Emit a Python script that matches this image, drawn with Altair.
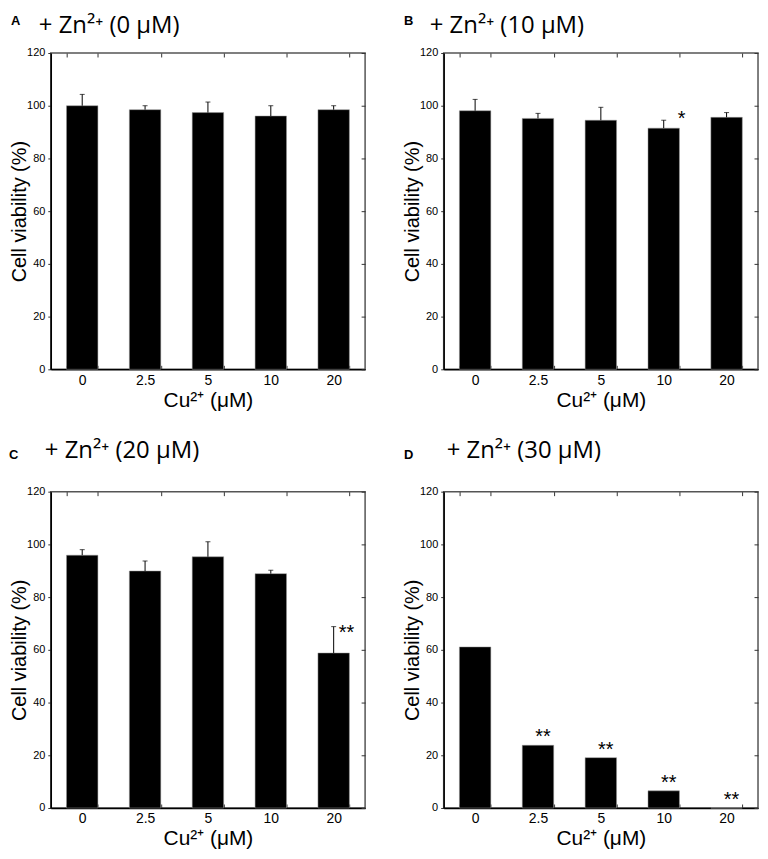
import altair as alt
import pandas as pd

# ---- data ----
cu_labels = ["0", "2.5", "5", "10", "20"]
letters = ["A", "B", "C", "D"]
titles = ["+ Zn²⁺ (0 μM)", "+ Zn²⁺ (10 μM)", "+ Zn²⁺ (20 μM)", "+ Zn²⁺ (30 μM)"]

mean_A = [100.0, 98.5, 97.4, 96.1, 98.5]
sd_A = [4.3, 1.5, 4.0, 3.9, 1.5]
stars_A = ["", "", "", "", ""]

mean_B = [98.1, 95.2, 94.5, 91.5, 95.6]
sd_B = [4.3, 1.9, 4.9, 3.0, 1.8]
stars_B = ["", "", "", "*", ""]

mean_C = [95.9, 89.9, 95.3, 88.9, 58.8]
sd_C = [2.1, 3.8, 5.7, 1.3, 10.0]
stars_C = ["", "", "", "", "**"]

mean_D = [61.1, 23.8, 19.1, 6.5, 0.0]
sd_D = [0.0, 0.0, 0.0, 0.0, 0.0]
stars_D = ["", "**", "**", "**", "**"]

y_ticks = [0, 20, 40, 60, 80, 100, 120]

LABEL_FONT = "Liberation Sans"
TITLE_FONT = "Open Sans"
W = 316
H = 318


def panel(letter, title, means, sds, stars, title_dx, title_y, letter_dx, letter_y,
          star_dx, star_dy):
    df = pd.DataFrame({"cu": cu_labels, "mean": means, "sd": sds, "star": stars})
    df["top"] = df["mean"] + df["sd"]
    base = alt.Chart(df)

    xscale = alt.Scale(paddingInner=0.5, paddingOuter=0.25)
    yscale = alt.Scale(domain=[0, 120], nice=False, zero=True)

    x_plain = alt.X("cu:N", sort=cu_labels, axis=None)

    x_bottom = alt.X(
        "cu:N", sort=cu_labels, scale=xscale,
        axis=alt.Axis(
            title="Cu²⁺ (μM)", labelAngle=0, labelFont=LABEL_FONT, labelFontSize=14,
            labelColor="black", labelPadding=8, titleFont=LABEL_FONT, titleFontSize=21,
            titleFontWeight="normal", titleColor="black", titlePadding=2,
            tickBand="extent", tickSize={"expr": "-4"}, tickColor="#333",
            domainColor="black", domainWidth=1.5, grid=False,
        ),
    )
    y_left = alt.Y(
        "mean:Q", scale=yscale,
        axis=alt.Axis(
            title="Cell viability (%)", values=y_ticks, labelFont=LABEL_FONT,
            labelFontSize=11, labelColor="black", labelPadding=3,
            titleFont=LABEL_FONT, titleFontSize=20, titleFontWeight="normal",
            titleColor="black", titlePadding=-3, tickSize=3, tickColor="#333",
            domainColor="black", domainWidth=1.5, grid=False,
        ),
    )

    bars = base.mark_bar(color="black", stroke="#999", strokeWidth=0.5).encode(
        x=x_bottom, y=y_left
    )

    err_base = base.transform_filter("datum.sd > 0")
    err = err_base.mark_rule(color="black", strokeWidth=1).encode(
        x=x_plain, y=alt.Y("mean:Q", axis=None), y2="top:Q"
    )
    caps = err_base.mark_tick(color="black", size=5, thickness=1,
                              orient="horizontal").encode(
        x=x_plain, y=alt.Y("top:Q", axis=None)
    )

    star_txt = base.transform_filter("datum.star != ''").mark_text(
        font=LABEL_FONT, fontSize=20, color="black", align="center",
        baseline="alphabetic", dx=star_dx, dy=star_dy
    ).encode(x=x_plain, y=alt.Y("top:Q", axis=None), text="star:N")

    mirror = base.mark_point(opacity=0).encode(
        x=alt.X("cu:N", sort=cu_labels,
                axis=alt.Axis(orient="top", labels=False, title=None,
                              tickBand="extent", domain=False,
                              tickSize={"expr": "-4"}, tickColor="#333",
                              grid=False)),
        y=alt.Y("mean:Q",
                axis=alt.Axis(orient="right", labels=False, title=None,
                              values=y_ticks, domain=False,
                              tickSize={"expr": "-4"}, tickColor="#333",
                              grid=False)),
    )

    head = pd.DataFrame({"letter": [letter], "title": [title]})
    letter_txt = alt.Chart(head).mark_text(
        font="Liberation Sans", fontSize=13, fontWeight="bold", color="black",
        align="left", baseline="alphabetic"
    ).encode(text="letter:N", x=alt.value(letter_dx), y=alt.value(letter_y))
    title_txt = alt.Chart(head).mark_text(
        font=TITLE_FONT, fontSize=24, color="black",
        align="left", baseline="alphabetic"
    ).encode(text="title:N", x=alt.value(title_dx), y=alt.value(title_y))

    layered = alt.layer(
        bars, err, caps, star_txt, mirror, letter_txt, title_txt
    ).resolve_axis(x="independent", y="independent").properties(width=W, height=H)
    return layered


pA = panel(letters[0], titles[0], mean_A, sd_A, stars_A, -12, -20, -40, -28, 0, 0)
pB = panel(letters[1], titles[1], mean_B, sd_B, stars_B, -14, -20, -40, -28, 18, 5)
pC = panel(letters[2], titles[2], mean_C, sd_C, stars_C, -6, -34, -42, -33, 13, 12)
pD = panel(letters[3], titles[3], mean_D, sd_D, stars_D, 3, -34, -40, -33, 5, -2)

chart = alt.vconcat(
    alt.hconcat(pA, pB, spacing=34),
    alt.hconcat(pC, pD, spacing=34),
    spacing=27,
).properties(padding={"top": 3, "left": 0, "right": 0, "bottom": 0}).configure_view(
    stroke="#555", strokeWidth=1.5
)

chart.save("out.html", embed_options={"renderer": "svg", "actions": False})
